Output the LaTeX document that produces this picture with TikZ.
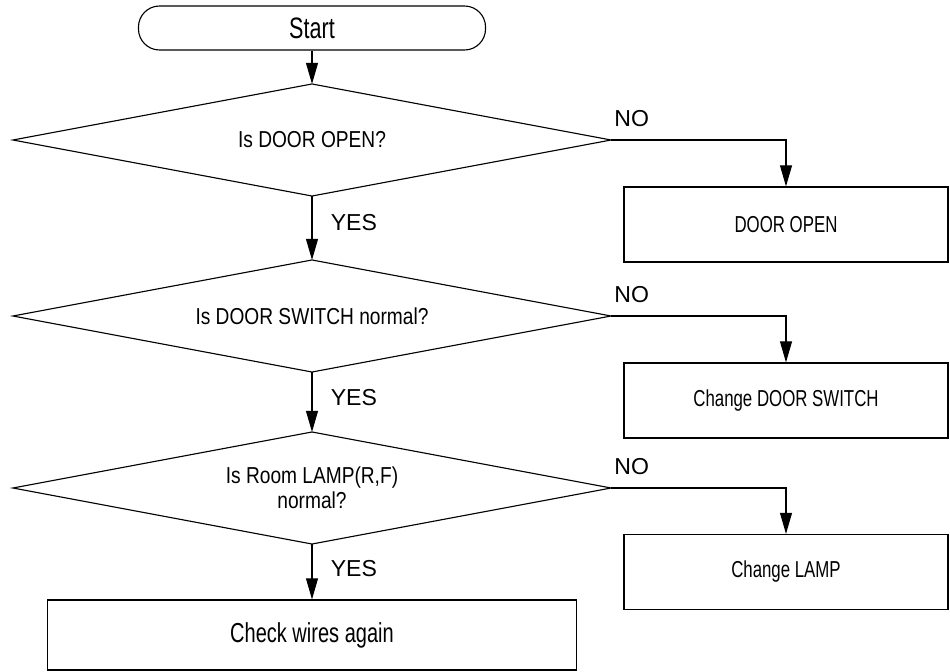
\documentclass[tikz,border=0pt]{standalone}
\usepackage{fontspec}
\setmainfont{Liberation Sans}
\newfontfamily\boxfont{Liberation Sans}[FakeStretch=0.73]
\newfontfamily\askfont{Liberation Sans}[FakeStretch=0.83]
\usetikzlibrary{arrows.meta,positioning,shapes.geometric}
\tikzset{
  startbox/.style ={draw, line width=0.8pt, rounded corners=15pt,
                    minimum width=8.675cm, minimum height=1.1cm,
                    font=\boxfont\fontsize{21}{25}\selectfont},
  askbox/.style   ={draw, diamond, line width=0.8pt, outer sep=0pt,
                    shape aspect=5.3, inner sep=0pt,
                    minimum width=14.95cm, minimum height=2.8cm,
                    align=center, font=\askfont\fontsize{16.4}{18}\selectfont},
  fixbox/.style   ={draw, line width=0.8pt,
                    minimum width=8.1cm, minimum height=1.875cm,
                    font=\boxfont\fontsize{16.4}{19}\selectfont},
  flowarr/.style  ={-{Triangle[length=15pt,width=8.5pt]}, line width=0.8pt},
  answer/.style   ={font=\fontsize{16.4}{19}\selectfont, inner sep=2pt},
}
\begin{document}
\begin{tikzpicture}[x=0.025cm,y=-0.025cm]
    \useasboundingbox (0,0) rectangle (950,672);

    % Start and questions
    \node[startbox] (start) at (312,28) {Start};
    \node[askbox] (door)   at (312,140) {Is DOOR OPEN?};
    \node[askbox] (switch) at (312,316) {Is DOOR SWITCH normal?};
    \node[askbox] (lamp)   at (312,488) {Is Room LAMP(R,F)\\normal?};

    % Repairs
    \node[fixbox] (opendoor)  at (786,224.5) {DOOR OPEN};
    \node[fixbox] (newswitch) at (786,400.5) {Change DOOR SWITCH};
    \node[fixbox] (newlamp)   at (786,572)   {Change LAMP};
    \node[fixbox, minimum width=13.2cm, minimum height=1.75cm,
          font=\boxfont\fontsize{19.5}{23}\selectfont]
      (wires) at (312,635) {Check wires again};

    % YES branch
    \draw[flowarr] (start.south) -- (door.north);
    \draw[flowarr] (door.south) -- node[pos=0.42,right=11pt,answer] {YES} (switch.north);
    \draw[flowarr] (switch.south) -- node[pos=0.42,right=11pt,answer] {YES} (lamp.north);
    \draw[flowarr] (lamp.south) -- node[pos=0.44,right=11pt,answer] {YES} (wires.north);

    % NO branch
    \draw[flowarr] (door.east) -| node[pos=0,above right=7pt and 0pt,answer] {NO} (opendoor.north);
    \draw[flowarr] (switch.east) -| node[pos=0,above right=7pt and 0pt,answer] {NO} (newswitch.north);
    \draw[flowarr] (lamp.east) -| node[pos=0,above right=7pt and 0pt,answer] {NO} (newlamp.north);
\end{tikzpicture}
\end{document}
